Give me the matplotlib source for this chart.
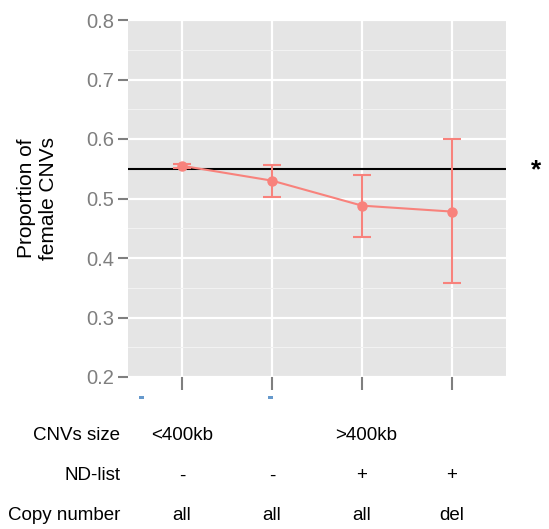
import numpy as np
import matplotlib.pyplot as plt
import matplotlib.patches as mpatches
from matplotlib.transforms import blended_transform_factory

# proportion of female CNVs per group, with CI bounds
groups = ['g1', 'g2', 'g3', 'g4']
prop = [0.555, 0.530, 0.488, 0.478]
lower = [0.552, 0.503, 0.435, 0.358]
upper = [0.558, 0.557, 0.540, 0.600]
ref_line = 0.55

size_labels = ['<400kb', '>400kb']
nd_list = ['-', '-', '+', '+']
copy_number = ['all', 'all', 'all', 'del']
row_names = ['CNVs size', 'ND-list', 'Copy number']

plt.rcParams['font.family'] = ['Liberation Sans', 'DejaVu Sans']
RED = '#F8827C'
GREY = '#7F7F7F'
W, H = 549, 529

fig = plt.figure(figsize=(W/100, H/100), dpi=100)
fig.patch.set_facecolor('white')
ax = fig.add_axes([128/W, 152/H, 378/W, 357/H])
ax.set_facecolor('#E5E5E5')

x = np.arange(1, len(groups) + 1)
ax.set_xlim(0.4, 4.6)
ax.set_ylim(0.2, 0.8)

ax.set_yticks(np.arange(0.2, 0.81, 0.1))
ax.set_yticks(np.arange(0.25, 0.8, 0.1), minor=True)
ax.set_yticklabels([f'{v:.1f}' for v in np.arange(0.2, 0.81, 0.1)],
                   fontsize=14.5, color=GREY)
ax.set_xticks(x)
ax.set_xticklabels([''] * len(groups))
ax.yaxis.grid(True, which='major', color='white', linewidth=1.6)
ax.yaxis.grid(True, which='minor', color='#F2F2F2', linewidth=0.8)
ax.xaxis.grid(True, which='major', color='white', linewidth=1.6)
ax.set_axisbelow(True)
for s in ax.spines.values():
    s.set_visible(False)
ax.tick_params(axis='y', which='major', length=7, width=1.5, color=GREY, pad=3)
ax.tick_params(axis='y', which='minor', length=0)
ax.tick_params(axis='x', length=9, width=1.5, color=GREY)

ax.axhline(ref_line, color='black', linewidth=1.5, zorder=2)
yerr = [np.array(prop) - np.array(lower), np.array(upper) - np.array(prop)]
ax.errorbar(x, prop, yerr=yerr, color=RED, linewidth=1.5, elinewidth=1.5,
            capsize=6.5, capthick=1.5, marker='o', markersize=6.5, zorder=3)

fig.text(38/W, 1 - 198/H, 'Proportion of\nfemale CNVs', rotation=90,
         fontsize=15, ha='center', va='center', linespacing=1.2)

fig.text(536/W, 1 - 170/H, '*', fontsize=19, fontweight='bold',
         ha='center', va='center')

# leftover label fragments under the panel
for px in (139, 268):
    fig.patches.append(mpatches.Rectangle((px/W, 1 - 399/H), 5/W, 3/H,
                                          transform=fig.transFigure,
                                          color='#6699CC', linewidth=0))

# table below the chart
def fig_y(py):
    return 1 - py/H

rows_y = [436, 476, 516]
fs = 13.5
for name, yy in zip(row_names, rows_y):
    fig.text(120/W, fig_y(yy), name, fontsize=fs, ha='right', va='center')

bt = blended_transform_factory(ax.transData, fig.transFigure)
ax.text(x[0], fig_y(436), size_labels[0], transform=bt, ha='center', va='center',
        fontsize=fs, clip_on=False)
ax.text((x[1] + x[3]) / 2 + 0.05, fig_y(436), size_labels[1], transform=bt,
        ha='center', va='center', fontsize=fs, clip_on=False)
for xi, nd, cn in zip(x, nd_list, copy_number):
    ax.text(xi, fig_y(476), nd, transform=bt, ha='center', va='center',
            fontsize=fs, clip_on=False)
    ax.text(xi, fig_y(516), cn, transform=bt, ha='center', va='center',
            fontsize=fs, clip_on=False)

fig.savefig('out.png', dpi=100)
